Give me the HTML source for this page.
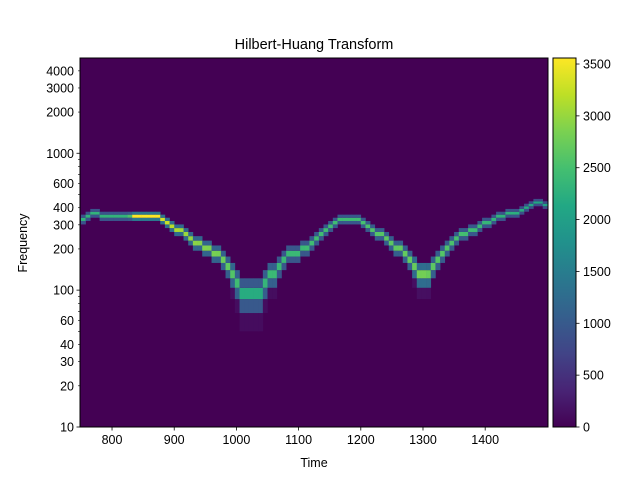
<!DOCTYPE html>
<html><head><meta charset="utf-8"><style>
body{margin:0;background:#fff;}
svg text{font-family:"Liberation Sans","DejaVu Sans",sans-serif;fill:#000;}
</style></head><body>
<svg id="chart" width="640" height="480" viewBox="0 0 640 480" xmlns="http://www.w3.org/2000/svg">
<defs>
<linearGradient id="vir" x1="0" y1="1" x2="0" y2="0">
<stop offset="0" stop-color="#440154"/><stop offset="0.1" stop-color="#482475"/><stop offset="0.2" stop-color="#414487"/><stop offset="0.3" stop-color="#355f8d"/><stop offset="0.4" stop-color="#2a788e"/><stop offset="0.5" stop-color="#21918c"/><stop offset="0.6" stop-color="#22a884"/><stop offset="0.7" stop-color="#44bf70"/><stop offset="0.8" stop-color="#7ad151"/><stop offset="0.9" stop-color="#bddf26"/><stop offset="1" stop-color="#fde725"/>
</linearGradient>
</defs>
<text x="314" y="49" font-size="14.5" text-anchor="middle">Hilbert-Huang Transform</text>
<rect x="80" y="58" width="468" height="369" fill="#440154"/>
<g id="cells"></g>
<rect x="80" y="58" width="468" height="369" fill="none" stroke="#000" stroke-width="1"/>
<g id="xticks"></g>
<g id="yticks"></g>
<text x="314" y="467" font-size="12.5" text-anchor="middle">Time</text>
<text x="27" y="243" font-size="12.5" text-anchor="middle" transform="rotate(-90 27 243)">Frequency</text>
<rect x="553" y="58" width="23" height="369" fill="url(#vir)" stroke="#000" stroke-width="1"/>
<g id="cticks"></g>
</svg>
<script>
const trackTimes = [750,758,762,778,782,828,832,875,877,885,893,906,921,930,942,958,974,985,993,1000,1007,1040,1049,1059,1083,1106,1118,1130,1138,1147,1155,1165,1195,1202,1215,1223,1231,1242,1252,1266,1274,1283,1290,1295,1305,1311,1323,1332,1344,1355,1360,1376,1392,1403,1424,1445,1461,1476,1485,1500];
const trackFreqs = [330,330,357,357,338,338,352,352,334,312,292,273,255,234,215,194,173,156,137,117,97,97,117,134,176,194,215,234,255,282,299,334,334,312,292,273,255,234,215,194,173,156,137,130,130,137,173,194,215,234,255,273,292,312,351,363,382,416,438,416];
const trackAmps = [2300,2300,2300,2300,2300,2300,3550,3550,3400,3300,3200,3100,3000,2950,2900,2850,2800,2700,2600,2500,2200,2200,2400,2400,2400,2400,2450,2450,2450,2450,2450,2450,2450,2500,2550,2600,2600,2650,2650,2700,2700,2700,2750,2800,2800,2700,2600,2600,2550,2500,2500,2450,2400,2350,2300,2250,2200,2150,2100,2000];
const xTickVals = [800,900,1000,1100,1200,1300,1400];
const yMajor = [10,100,1000];
const yLabeled = [10,20,30,40,60,100,200,300,400,600,1000,2000,3000,4000];
const cTickVals = [0,500,1000,1500,2000,2500,3000,3500];

const NS="http://www.w3.org/2000/svg";
const X0=80,X1=548,Y0=58,Y1=427,T0=748.5,T1=1501,F0=10,F1=4966,VMAX=3558;
function xs(t){return X0+(t-T0)/(T1-T0)*(X1-X0);}
function ys(f){return Y1-(Math.log10(f)-Math.log10(F0))/(Math.log10(F1)-Math.log10(F0))*(Y1-Y0);}
function cy(v){return Y1-v/VMAX*(Y1-Y0);}
const stops=["#440154","#482475","#414487","#355f8d","#2a788e","#21918c","#22a884","#44bf70","#7ad151","#bddf26","#fde725"];
function hex(h){return [1,3,5].map(i=>parseInt(h.substr(i,2),16));}
function color(v){let u=Math.max(0,Math.min(1,v/VMAX))*10;let i=Math.min(9,Math.floor(u));let f=u-i;let a=hex(stops[i]),b=hex(stops[i+1]);return "rgb("+a.map((c,k)=>Math.round(c+(b[k]-c)*f)).join(",")+")";}
function interp(arr,t){for(let i=0;i<trackTimes.length-1;i++){if(t<=trackTimes[i+1]){let f=(t-trackTimes[i])/(trackTimes[i+1]-trackTimes[i]);return arr[i]+(arr[i+1]-arr[i])*f;}}return arr[arr.length-1];}
function mk(tag,attrs,parent){const e=document.createElementNS(NS,tag);for(const k in attrs)e.setAttribute(k,attrs[k]);parent.appendChild(e);return e;}

const cells=document.getElementById('cells');
const DT=7.5,FW=18,FOFF=14;
for(let t=750;t<1500;t+=DT){
  const tc=t+DT/2;const f=interp(trackFreqs,tc),a=interp(trackAmps,tc);
  const k=Math.floor((f-FOFF)/FW);
  const offs=f<150?[[-2,0.05],[-1,0.45],[0,1],[1,0.45]]:[[-1,0.4],[0,1],[1,0.4]];
  for(const [d,m] of offs){
    const lo=Math.max(F0,FOFF+(k+d)*FW),hi=FOFF+(k+d+1)*FW;
    if(hi<=F0)continue;
    const r=mk('rect',{x:xs(t),y:ys(hi),width:xs(t+DT)-xs(t)+0.3,height:ys(lo)-ys(hi),fill:color(a*m)},cells);
    
    
  }
}
const xg=document.getElementById('xticks');
xTickVals.forEach(v=>{const x=xs(v);
  mk('line',{x1:x,x2:x,y1:Y1,y2:Y1+3.5,stroke:'#000','stroke-width':0.8},xg);
  const tx=mk('text',{x:x,y:Y1+17,'font-size':12.5,'text-anchor':'middle'},xg);tx.textContent=v;
  
  });
const yg=document.getElementById('yticks');
for(let e=1;e<=3;e++)for(let m=1;m<=9;m++){const v=m*Math.pow(10,e);if(v>F1)continue;const y=ys(v);
  const major=yMajor.includes(v);
  mk('line',{x1:X0,x2:X0-(major?3.5:2),y1:y,y2:y,stroke:'#000','stroke-width':major?0.8:0.6},yg);
  if(yLabeled.includes(v)){const tx=mk('text',{x:X0-6,y:y+4.5,'font-size':12.5,'text-anchor':'end'},yg);tx.textContent=v;
    
    }}
const cg=document.getElementById('cticks');
cTickVals.forEach(v=>{const y=cy(v);
  mk('line',{x1:576,x2:579.5,y1:y,y2:y,stroke:'#000','stroke-width':0.8},cg);
  const tx=mk('text',{x:583,y:y+4.5,'font-size':12.5},cg);tx.textContent=v;
  
  });
</script>
</body></html>
